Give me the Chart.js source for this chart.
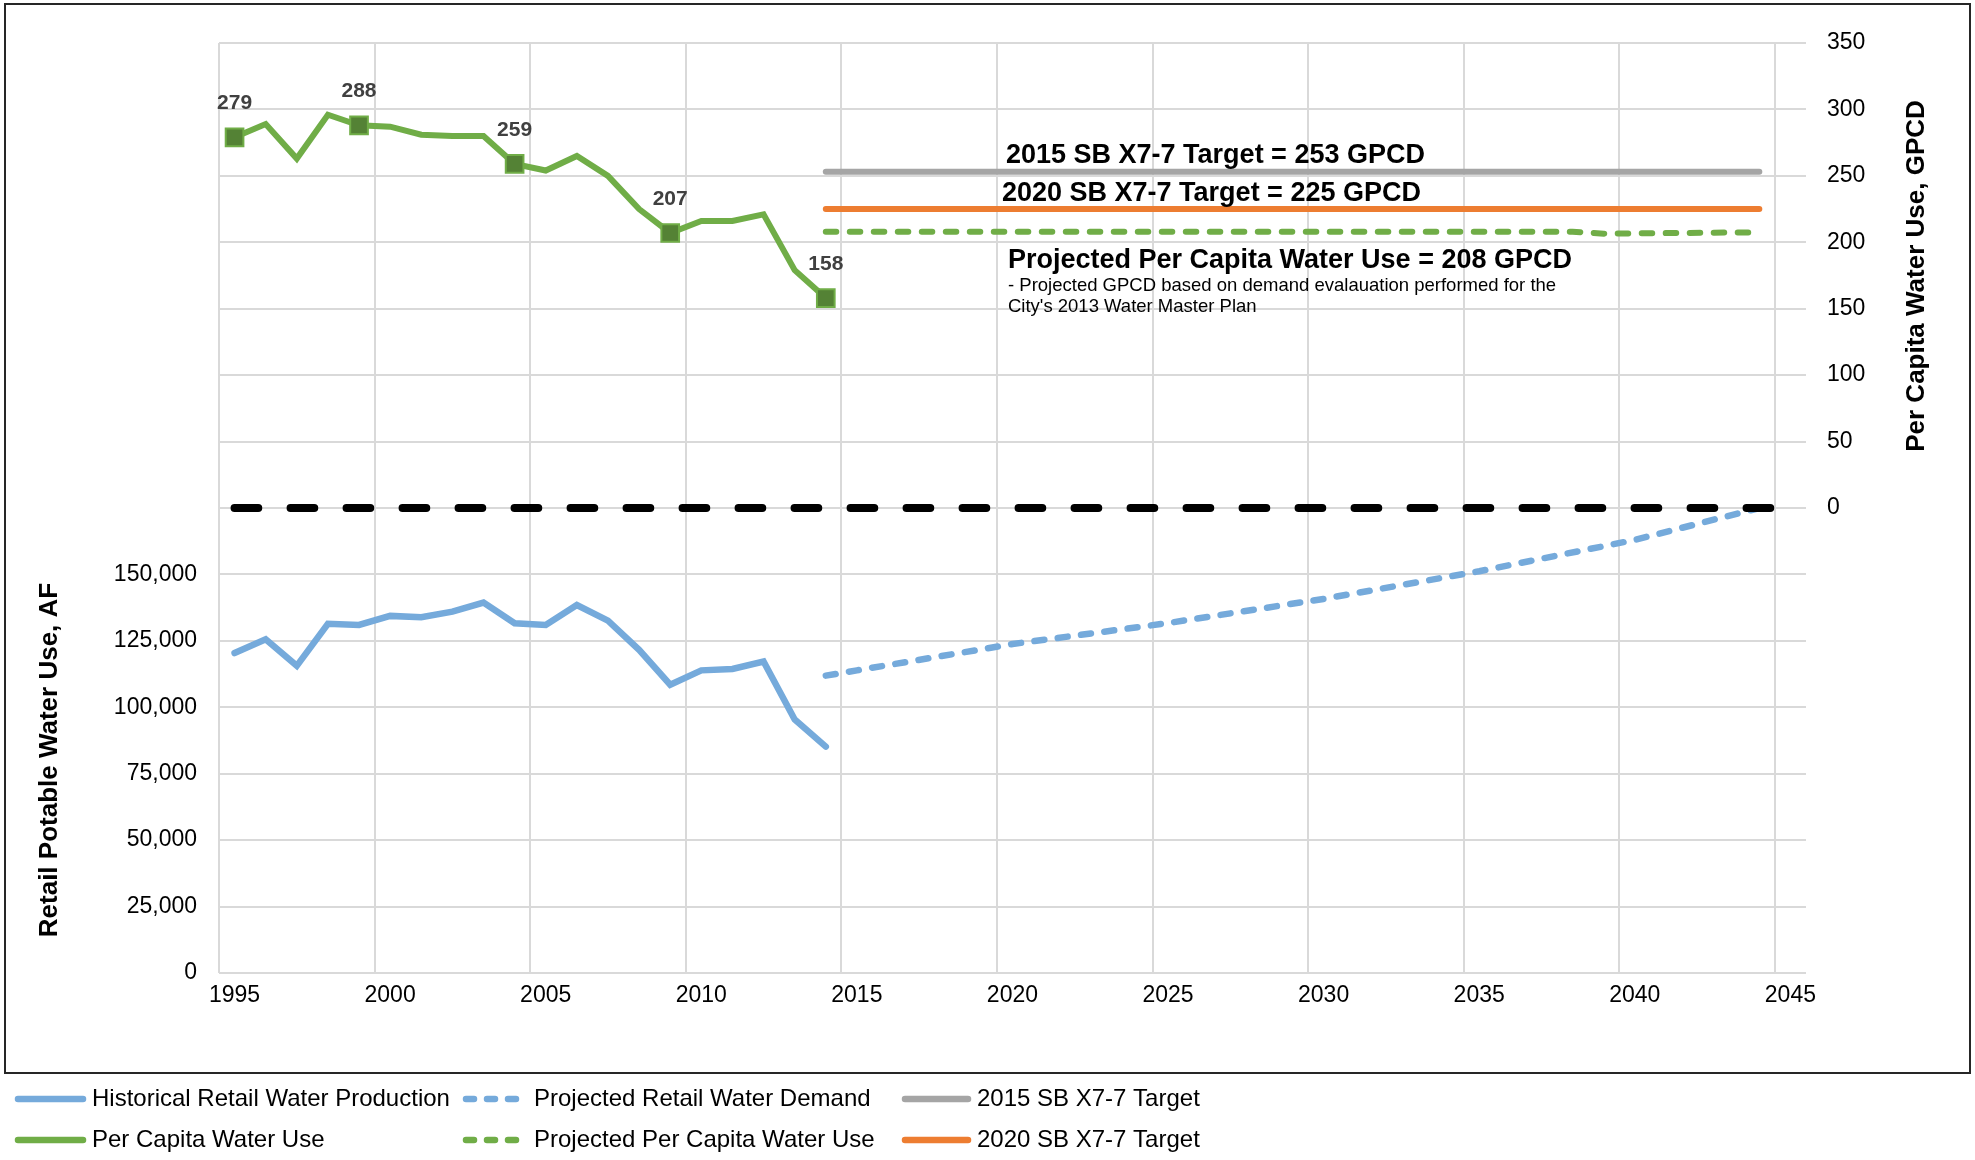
<!DOCTYPE html>
<html>
<head>
<meta charset="utf-8">
<script src="https://cdn.jsdelivr.net/npm/chart.js@4.4.1/dist/chart.umd.min.js"></script>
<style>
  html, body { margin: 0; padding: 0; background: #fff; }
  #wrap { width: 1975px; height: 1160px; }
</style>
</head>
<body>
<div id="wrap"><canvas id="chart" width="1975" height="1160"></canvas></div>
<script>
// ---- data ----
const histYears = [1995, 1996, 1997, 1998, 1999, 2000, 2001, 2002, 2003, 2004,
                   2005, 2006, 2007, 2008, 2009, 2010, 2011, 2012, 2013, 2014];
const histProduction = [120400, 125600, 115600, 131400, 131000, 134400, 133900, 136000, 139400, 131600,
                        131000, 138500, 132600, 121600, 108500, 113900, 114400, 117200, 95400, 85200];
const histGpcd = [279, 289, 263, 296, 288, 287, 281, 280, 280, 259,
                  254, 265, 250, 225, 207, 216, 216, 221, 179, 158];
const markerYears = [1995, 1999, 2004, 2009, 2014];

const projDemandYears = [2014, 2015, 2020, 2025, 2030, 2035, 2040, 2044];
const projDemand = [111900, 113900, 123800, 131700, 140800, 151200, 163000, 175000];

const projGpcdYears = [2014, 2038, 2039, 2044];
const projGpcd = [208, 208, 206.5, 207.5];

const targetYears = [2014, 2044];
const target2015 = [253, 253];
const target2020 = [225, 225];

const separatorYears = [1995, 2045];
const separator = [0, 0];

const yearTicks = [1995, 2000, 2005, 2010, 2015, 2020, 2025, 2030, 2035, 2040, 2045];
const afTicks = [0, 25000, 50000, 75000, 100000, 125000, 150000];
const gpcdTicks = [0, 50, 100, 150, 200, 250, 300, 350];

const FONT = '"Liberation Sans", Arial, sans-serif';
const BLUE = '#75AADB';
const GREEN = '#70AD47';
const DARK_GREEN = '#548235';
const GRAY = '#A5A5A5';
const ORANGE = '#ED7D31';
const GRID = '#D9D9D9';

const pts = (xs, ys) => xs.map((x, i) => ({ x: x, y: ys[i] }));

// 白底、外框、軸標題、資料標籤、註解與圖例
const overlay = {
  id: 'overlay',
  beforeDraw(chart) {
    const ctx = chart.ctx;
    ctx.save();
    ctx.fillStyle = '#fff';
    ctx.fillRect(0, 0, chart.width, chart.height);
    ctx.restore();
  },
  afterDraw(chart) {
    const ctx = chart.ctx;
    ctx.save();

    // frame around the plot
    ctx.strokeStyle = '#262626';
    ctx.lineWidth = 2;
    ctx.strokeRect(5, 4, 1965, 1069);

    // axis titles
    ctx.fillStyle = '#000';
    ctx.font = 'bold 26px ' + FONT;
    ctx.textAlign = 'center';
    ctx.textBaseline = 'middle';
    ctx.save();
    ctx.translate(50, 760);
    ctx.rotate(-Math.PI / 2);
    ctx.fillText('Retail Potable Water Use, AF', 0, 0);
    ctx.restore();
    ctx.save();
    ctx.translate(1917, 276);
    ctx.rotate(-Math.PI / 2);
    ctx.fillText('Per Capita Water Use, GPCD', 0, 0);
    ctx.restore();

    // value labels over the markers
    const meta = chart.getDatasetMeta(4);
    ctx.font = 'bold 21px ' + FONT;
    ctx.fillStyle = '#404040';
    meta.data.forEach((p, i) => {
      const raw = chart.data.datasets[4].data[i];
      if (markerYears.includes(raw.x)) {
        ctx.fillText(String(Math.round(raw.y)), p.x, p.y - 34);
      }
    });

    // annotations
    ctx.fillStyle = '#000';
    ctx.textAlign = 'left';
    ctx.textBaseline = 'alphabetic';
    ctx.font = 'bold 27px ' + FONT;
    ctx.fillText('2015 SB X7-7 Target = 253 GPCD', 1006, 163);
    ctx.fillText('2020 SB X7-7 Target = 225 GPCD', 1002, 201);
    ctx.fillText('Projected Per Capita Water Use = 208 GPCD', 1008, 268);
    ctx.font = '18.5px ' + FONT;
    ctx.fillText('- Projected GPCD based on demand evalauation performed for the', 1008, 291);
    ctx.fillText("City's 2013 Water Master Plan", 1008, 312);

    // legend (two rows of three)
    const rows = [[1, 2, 3], [4, 5, 6]];
    const rowY = [1099, 1140];
    const cols = [{ x0: 15, x1: 86, tx: 92 }, { x0: 462, x1: 522, tx: 534 }, { x0: 902, x1: 971, tx: 977 }];
    ctx.font = '24px ' + FONT;
    ctx.textBaseline = 'middle';
    rows.forEach((row, r) => {
      row.forEach((di, c) => {
        const ds = chart.data.datasets[di];
        const col = cols[c];
        const y = rowY[r];
        ctx.save();
        ctx.strokeStyle = ds.borderColor;
        ctx.lineWidth = 6.5;
        ctx.lineCap = 'round';
        if (ds.borderDash && ds.borderDash.length) {
          ctx.setLineDash([8, 13]);
          ctx.beginPath();
          ctx.moveTo(col.x0 + 4, y);
          ctx.lineTo(col.x1, y);
          ctx.stroke();
        } else {
          ctx.beginPath();
          ctx.moveTo(col.x0 + 3, y);
          ctx.lineTo(col.x1 - 3, y);
          ctx.stroke();
        }
        ctx.restore();
        ctx.fillStyle = '#000';
        ctx.fillText(ds.label, col.tx, y);
      });
    });

    ctx.restore();
  }
};

const chart = new Chart(document.getElementById('chart').getContext('2d'), {
  type: 'line',
  data: {
    datasets: [
      {
        label: 'Separator',
        data: pts(separatorYears, separator),
        yAxisID: 'y2',
        borderColor: '#000',
        borderWidth: 8,
        borderDash: [23.7, 32.3],
        borderCapStyle: 'round',
        pointRadius: 0,
        order: 0
      },
      {
        label: 'Historical Retail Water Production',
        data: pts(histYears, histProduction),
        yAxisID: 'y',
        borderColor: BLUE,
        borderWidth: 6.5,
        borderCapStyle: 'round',
        pointRadius: 0,
        order: 2
      },
      {
        label: 'Projected Retail Water Demand',
        data: pts(projDemandYears, projDemand),
        yAxisID: 'y',
        borderColor: BLUE,
        borderWidth: 6.5,
        borderDash: [10, 13.5],
        borderCapStyle: 'round',
        pointRadius: 0,
        order: 3
      },
      {
        label: '2015 SB X7-7 Target',
        data: pts(targetYears, target2015),
        yAxisID: 'y2',
        borderColor: GRAY,
        borderWidth: 6,
        borderCapStyle: 'round',
        pointRadius: 0,
        order: 4
      },
      {
        label: 'Per Capita Water Use',
        data: pts(histYears, histGpcd),
        yAxisID: 'y2',
        borderColor: GREEN,
        borderWidth: 6,
        borderCapStyle: 'round',
        pointStyle: 'rect',
        pointRadius: ctx => (ctx.raw && markerYears.includes(ctx.raw.x)) ? 12.5 : 0,
        pointBackgroundColor: DARK_GREEN,
        pointBorderColor: GREEN,
        pointBorderWidth: 2,
        order: 1
      },
      {
        label: 'Projected Per Capita Water Use',
        data: pts(projGpcdYears, projGpcd),
        yAxisID: 'y2',
        borderColor: GREEN,
        borderWidth: 6,
        borderDash: [10.5, 13.5],
        borderCapStyle: 'round',
        pointRadius: 0,
        order: 5
      },
      {
        label: '2020 SB X7-7 Target',
        data: pts(targetYears, target2020),
        yAxisID: 'y2',
        borderColor: ORANGE,
        borderWidth: 6,
        borderCapStyle: 'round',
        pointRadius: 0,
        order: 6
      }
    ]
  },
  options: {
    responsive: false,
    devicePixelRatio: 1,
    animation: false,
    layout: { padding: { top: 43, left: 0, right: 0, bottom: 0 } },
    elements: { line: { tension: 0, fill: false } },
    plugins: {
      legend: { display: false },
      tooltip: { enabled: false }
    },
    scales: {
      x: {
        type: 'linear',
        min: 1994.5,
        max: 2045.5,
        afterBuildTicks: s => { s.ticks = yearTicks.map(v => ({ value: v - 0.5 })); },
        afterFit: s => { s.height = 187; },
        ticks: {
          autoSkip: false,
          maxRotation: 0,
          labelOffset: 15.5,
          padding: 9,
          color: '#000',
          font: { family: FONT, size: 23 },
          callback: v => String(v + 0.5)
        },
        grid: { color: GRID, lineWidth: 2, drawTicks: false },
        border: { display: false }
      },
      y: {
        position: 'left',
        min: 0,
        max: 350000,
        afterFit: s => { s.width = 219; },
        ticks: {
          stepSize: 25000,
          padding: 22,
          color: '#000',
          font: { family: FONT, size: 23 },
          callback: v => afTicks.includes(v) ? v.toLocaleString('en-US') : ''
        },
        grid: { color: GRID, lineWidth: 2, drawTicks: false },
        border: { display: false }
      },
      y2: {
        position: 'right',
        min: -350,
        max: 350,
        afterFit: s => { s.width = 169; },
        ticks: {
          stepSize: 50,
          padding: 21,
          color: '#000',
          font: { family: FONT, size: 23 },
          callback: v => gpcdTicks.includes(v) ? String(v) : ''
        },
        grid: { display: false, drawTicks: false },
        border: { display: false }
      }
    }
  },
  plugins: [overlay]
});
</script>
</body>
</html>
